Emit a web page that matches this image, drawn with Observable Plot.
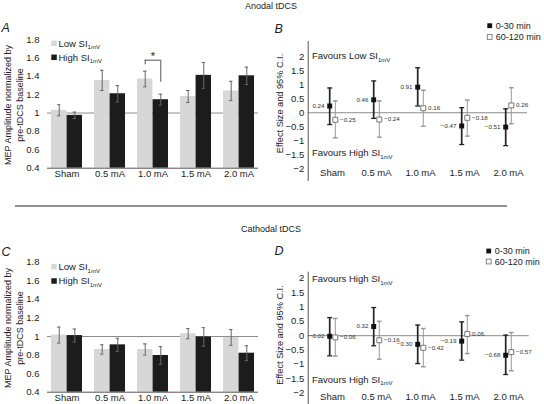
<!DOCTYPE html>
<html><head><meta charset="utf-8">
<script src="https://cdn.jsdelivr.net/npm/d3@7"></script>
<script src="https://cdn.jsdelivr.net/npm/@observablehq/plot@0.6"></script>
<style>
body{margin:0;background:#fff;}
#fig{position:relative;width:544px;height:404px;overflow:hidden;background:#fff;}
</style></head>
<body><div id="fig"></div>
<script>
// ---------- data ----------
const doses = ["Sham", "0.5 mA", "1.0 mA", "1.5 mA", "2.0 mA"];
const barTicks = [0.4, 0.6, 0.8, 1, 1.2, 1.4, 1.6, 1.8];
const esTicks = [-2, -1.5, -1, -0.5, 0, 0.5, 1, 1.5, 2];
const barBaseline = 1;
const esZero = 0;

// Panel A (anodal, MEP amplitude)
const anodLow = [1.03, 1.355, 1.37, 1.18, 1.24];
const anodLowErr = [0.06, 0.11, 0.085, 0.065, 0.105];
const anodHigh = [0.975, 1.21, 1.145, 1.41, 1.405];
const anodHighErr = [0.035, 0.09, 0.06, 0.14, 0.095];
const anodSig = [{dose: "1.0 mA", top: 1.575, lowEnd: 1.525, highEnd: 1.335, mark: "*"}];

// Panel C (cathodal, MEP amplitude)
const cathLow = [1.015, 0.86, 0.86, 1.03, 0.99];
const cathLowErr = [0.086, 0.05, 0.06, 0.055, 0.085];
const cathHigh = [1.01, 0.91, 0.795, 0.995, 0.82];
const cathHighErr = [0.07, 0.07, 0.095, 0.1, 0.08];

// Panel B (anodal effect sizes)
const anodEarly = [0.24, 0.46, 0.91, -0.47, -0.51];
const anodEarlyLo = [-0.42, -0.2, 0.24, -1.13, -1.17];
const anodEarlyHi = [0.88, 1.13, 1.6, 0.18, 0.14];
const anodLate = [-0.25, -0.24, 0.16, -0.18, 0.26];
const anodLateLo = [-0.89, -0.87, -0.48, -0.83, -0.39];
const anodLateHi = [0.42, 0.42, 0.8, 0.45, 0.89];

// Panel D (cathodal effect sizes)
const cathEarly = [-0.02, 0.32, -0.30, -0.19, -0.68];
const cathEarlyLo = [-0.70, -0.35, -0.97, -0.85, -1.35];
const cathEarlyHi = [0.63, 0.98, 0.37, 0.48, 0.02];
const cathLate = [-0.06, -0.16, -0.42, 0.06, -0.57];
const cathLateLo = [-0.71, -0.82, -1.08, -0.62, -1.22];
const cathLateHi = [0.60, 0.50, 0.25, 0.70, 0.11];

// texts
const groupNames = ["Low SI", "High SI"];
const groupSub = "1mV";
const timeNames = ["0-30 min", "60-120 min"];
const sectionTitles = ["Anodal tDCS", "Cathodal tDCS"];
const panelLetters = ["A", "B", "C", "D"];
const barYTitle = ["MEP Amplitude normalized by", "pre-tDCS baseline"];
const esYTitle = "Effect Size and 95% C.I.";
const favoursB = ["Favours Low SI", "Favours High SI"];
const favoursD = ["Favours High SI", "Favours High SI"];

// ---------- styles ----------
const FONT = "'Liberation Sans', Arial, Helvetica, sans-serif";
const TXT = "#222";
const LIGHT = "#d7d7d7";
const DARK = "#1c1c1c";

const fig = document.getElementById("fig");
function place(node, left, top) {
  const d = document.createElement("div");
  d.style.cssText = `position:absolute;left:${left}px;top:${top}px;width:272px;`;
  d.appendChild(node);
  fig.appendChild(d);
}

function barPanel({low, lowErr, high, highErr, sig, height, marginTop, marginBottom}) {
  const ml = 47, mr = 14, W = 272;
  const xb = d3.scaleBand().domain(doses).range([ml, W - mr]).paddingInner(0.29).paddingOuter(0.05);
  const bw = xb.bandwidth(), half = bw / 2, q = bw / 4, cap = 1.8;
  const rows = doses.map((dose, i) => ({dose, low: low[i], le: lowErr[i], high: high[i], he: highErr[i]}));
  const yMin = barTicks[0];
  const err = "#666";
  const marks = [
    Plot.ruleY([barBaseline], {stroke: "#8c8c8c", strokeWidth: 1}),
    Plot.barY(rows, {x: "dose", y1: yMin, y2: "low", fill: LIGHT, insetRight: half}),
    Plot.barY(rows, {x: "dose", y1: yMin, y2: "high", fill: DARK, insetLeft: half}),
    Plot.ruleX(rows, {x: "dose", y1: d => d.low - d.le, y2: d => d.low + d.le, dx: -q, stroke: err, strokeWidth: 1}),
    Plot.ruleX(rows, {x: "dose", y1: d => d.high - d.he, y2: d => d.high + d.he, dx: q, stroke: err, strokeWidth: 1}),
    Plot.tickY(rows, {x: "dose", y: d => d.low + d.le, insetLeft: q - cap, insetRight: bw - q - cap, stroke: err}),
    Plot.tickY(rows, {x: "dose", y: d => d.low - d.le, insetLeft: q - cap, insetRight: bw - q - cap, stroke: err}),
    Plot.tickY(rows, {x: "dose", y: d => d.high + d.he, insetLeft: 3 * q - cap, insetRight: q - cap, stroke: err}),
    Plot.tickY(rows, {x: "dose", y: d => d.high - d.he, insetLeft: 3 * q - cap, insetRight: q - cap, stroke: err}),
    Plot.ruleY([yMin], {stroke: "#555", strokeWidth: 1}),
    Plot.axisY({ticks: barTicks, tickFormat: d3.format("~g"), tickSize: 0, tickPadding: 8, label: null, fill: TXT}),
    Plot.axisX({tickSize: 0, tickPadding: 2, label: null, fill: TXT})
  ];
  if (sig) {
    marks.push(
      Plot.ruleX(sig, {x: "dose", y1: "lowEnd", y2: "top", dx: -q, stroke: "#555"}),
      Plot.ruleX(sig, {x: "dose", y1: "highEnd", y2: "top", dx: q, stroke: "#555"}),
      Plot.tickY(sig, {x: "dose", y: "top", insetLeft: q, insetRight: q, stroke: "#555"}),
      Plot.text(sig, {x: "dose", y: "top", text: "mark", dy: -4, fontSize: 11, fill: TXT})
    );
  }
  return Plot.plot({
    width: W, height, marginLeft: ml, marginRight: mr, marginTop, marginBottom,
    style: {fontFamily: FONT, fontSize: "9.5px", background: "transparent", color: TXT},
    x: {domain: doses, paddingInner: 0.29, paddingOuter: 0.05},
    y: {domain: [barTicks[0], barTicks[barTicks.length - 1]]},
    marks
  });
}

const capSym = {draw(ctx, size) { const w = Math.sqrt(size / Math.PI); ctx.moveTo(-w, 0); ctx.lineTo(w, 0); }};
const fmtES = v => (v < 0 ? "\u2212" : "") + Math.abs(v).toFixed(2);

function esPanel({early, eLo, eHi, late, lLo, lHi, height, marginTop, marginBottom, yDomain, marginRight, padding, align, labelDy}) {
  const E = doses.map((dose, i) => ({dose, v: early[i], lo: eLo[i], hi: eHi[i]}));
  const L = doses.map((dose, i) => ({dose, v: late[i], lo: lLo[i], hi: lHi[i]}));
  const off = 2.8;
  const grey = "#999";
  return Plot.plot({
    width: 272, height, marginLeft: 35.7, marginRight, marginTop, marginBottom,
    style: {fontFamily: FONT, fontSize: "9.5px", background: "transparent", color: TXT},
    x: {type: "point", domain: doses, padding, align, axis: null},
    y: {domain: yDomain},
    marks: [
      Plot.ruleY([esZero], {stroke: "#8c8c8c", strokeWidth: 1}),
      Plot.frame({anchor: "left", stroke: "#555"}),
      Plot.axisY({ticks: esTicks, tickFormat: d3.format("~g"), tickSize: 0, tickPadding: 4, label: null, fill: TXT}),
      Plot.ruleX(L, {x: "dose", y1: "lo", y2: "hi", dx: off, stroke: grey, strokeWidth: 1}),
      Plot.dot(L, {x: "dose", y: "lo", dx: off, symbol: capSym, r: 2.3, stroke: grey, fill: "none"}),
      Plot.dot(L, {x: "dose", y: "hi", dx: off, symbol: capSym, r: 2.3, stroke: grey, fill: "none"}),
      Plot.ruleX(E, {x: "dose", y1: "lo", y2: "hi", dx: -off, stroke: "#222", strokeWidth: 1.7}),
      Plot.dot(E, {x: "dose", y: "lo", dx: -off, symbol: capSym, r: 2.5, stroke: "#222", strokeWidth: 1.3, fill: "none"}),
      Plot.dot(E, {x: "dose", y: "hi", dx: -off, symbol: capSym, r: 2.5, stroke: "#222", strokeWidth: 1.3, fill: "none"}),
      Plot.dot(E, {x: "dose", y: "v", dx: -off, symbol: "square", r: 2.8, fill: "#111", stroke: "none"}),
      Plot.dot(L, {x: "dose", y: "v", dx: off, symbol: "square", r: 2.8, fill: "white", stroke: "#777", strokeWidth: 1}),
      Plot.text(E, {x: "dose", y: "v", text: d => fmtES(d.v), dx: -off - 5.2, textAnchor: "end", fontSize: 6.2, fill: "#333"}),
      Plot.text(L, {x: "dose", y: "v", text: d => fmtES(d.v), dx: off + 4.8, textAnchor: "start", fontSize: 6.2, fill: "#333"}),
      Plot.text(doses, {x: d => d, frameAnchor: "bottom", dy: labelDy, fontSize: 9.5, fill: TXT})
    ]
  });
}

place(barPanel({low: anodLow, lowErr: anodLowErr, high: anodHigh, highErr: anodHighErr, sig: anodSig,
  height: 190, marginTop: 39, marginBottom: 22.3}), 0, 0);
place(esPanel({early: anodEarly, eLo: anodEarlyLo, eHi: anodEarlyHi, late: anodLate, lLo: anodLateLo, lHi: anodLateHi,
  height: 190, marginTop: 41, marginBottom: 10, yDomain: [-2.409, 2.533], marginRight: 17, padding: 0.485, align: 0.556, labelDy: -5}), 272, 0);
place(barPanel({low: cathLow, lowErr: cathLowErr, high: cathHigh, highErr: cathHighErr, sig: null,
  height: 204, marginTop: 61.7, marginBottom: 12.3}), 0, 200);
place(esPanel({early: cathEarly, eLo: cathEarlyLo, eHi: cathEarlyHi, late: cathLate, lLo: cathLateLo, lHi: cathLateHi,
  height: 210, marginTop: 71.7, marginBottom: 4, yDomain: [-2.463, 2.209], marginRight: 15.3, padding: 0.504, align: 0.535, labelDy: -7}), 272, 200);

// ---------- overlay texts ----------
const ov = d3.select(fig).append("svg")
  .attr("width", 544).attr("height", 404)
  .style("position", "absolute").style("left", "0px").style("top", "0px")
  .style("pointer-events", "none")
  .attr("font-family", FONT);

function addText(x, yc, parts, {size = 9, anchor = "start", rotate = 0, italic = false, fill = TXT} = {}) {
  const t = ov.append("text")
    .attr("transform", `translate(${x},${yc}) rotate(${rotate})`)
    .attr("y", size * 0.35)
    .attr("text-anchor", anchor).attr("font-size", size).attr("fill", fill);
  if (italic) t.attr("font-style", "italic");
  for (const p of parts) {
    if (typeof p === "string") t.append("tspan").text(p);
    else t.append("tspan").attr("font-size", p.size).attr("dy", p.dy).text(p.sub);
  }
}
const SUB = {sub: groupSub, size: 6, dy: 2.5};

// section titles and separator
addText(271, 5.5, [sectionTitles[0]], {size: 9, anchor: "middle"});
addText(271, 229, [sectionTitles[1]], {size: 9, anchor: "middle"});
ov.append("line").attr("x1", 15).attr("x2", 507).attr("y1", 206).attr("y2", 206).attr("stroke", "#222").attr("stroke-width", 1.2);

// panel letters
addText(1.5, 27.5, [panelLetters[0]], {size: 12.5, italic: true});
addText(274.5, 28.3, [panelLetters[1]], {size: 12.5, italic: true});
addText(1.5, 251.7, [panelLetters[2]], {size: 12.5, italic: true});
addText(274.5, 250.7, [panelLetters[3]], {size: 12.5, italic: true});

// y titles
for (const [yc] of [[105], [328]]) {
  addText(7.5, yc, [barYTitle[0]], {size: 9, anchor: "middle", rotate: -90});
  addText(19.5, yc, [barYTitle[1]], {size: 9, anchor: "middle", rotate: -90});
}
addText(280, 103.5, [esYTitle], {size: 9.2, anchor: "middle", rotate: -90});
addText(280, 335, [esYTitle], {size: 9.2, anchor: "middle", rotate: -90});

// bar legends
for (const [y1, y2] of [[43.3, 57.3], [266.7, 281]]) {
  ov.append("rect").attr("x", 51.3).attr("y", y1 - 2.75).attr("width", 5.5).attr("height", 5.5).attr("fill", LIGHT);
  ov.append("rect").attr("x", 51.3).attr("y", y2 - 2.75).attr("width", 5.5).attr("height", 5.5).attr("fill", DARK);
  addText(58.5, y1, [groupNames[0], SUB], {size: 9.5});
  addText(58.5, y2, [groupNames[1], SUB], {size: 9.5});
}

// effect size legends
for (const [x, y1, y2] of [[489.7, 25.7, 37], [488.7, 251, 261.5]]) {
  ov.append("rect").attr("x", x - 2.4).attr("y", y1 - 2.4).attr("width", 4.8).attr("height", 4.8).attr("fill", "#111");
  ov.append("rect").attr("x", x - 2.4).attr("y", y2 - 2.4).attr("width", 4.8).attr("height", 4.8).attr("fill", "white").attr("stroke", "#777").attr("stroke-width", 0.9);
  addText(x + 6, y1, [timeNames[0]], {size: 9});
  addText(x + 6, y2, [timeNames[1]], {size: 9});
}

// favours annotations
addText(312, 55.7, [favoursB[0], SUB], {size: 9.5});
addText(312, 153, [favoursB[1], SUB], {size: 9.5});
addText(312, 279, [favoursD[0], SUB], {size: 9.5});
addText(312, 379.3, [favoursD[1], SUB], {size: 9.5});
</script>
</body></html>
